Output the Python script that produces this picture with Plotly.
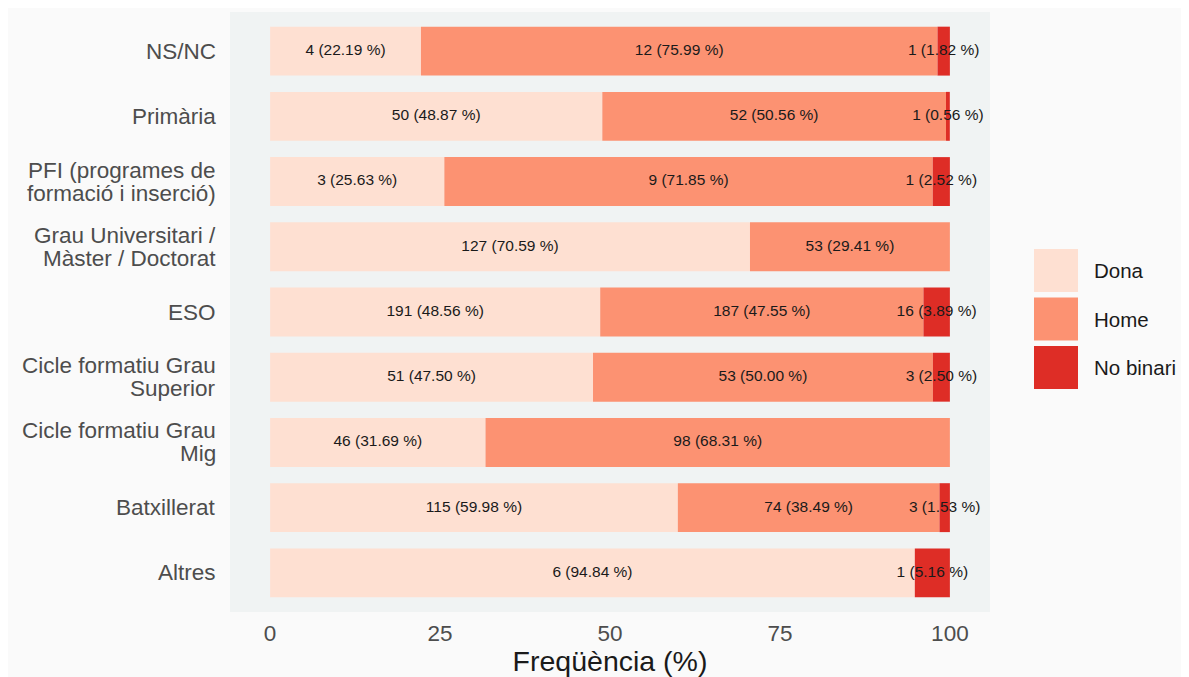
import plotly.graph_objects as go

# categories, top to bottom as in the chart
categories = [
    "NS/NC",
    "Primària",
    "PFI (programes de\nformació i inserció)",
    "Grau Universitari /\nMàster / Doctorat",
    "ESO",
    "Cicle formatiu Grau\nSuperior",
    "Cicle formatiu Grau\nMig",
    "Batxillerat",
    "Altres",
]
genders = ["Dona", "Home", "No binari"]
colors = ["#FEE0D2", "#FC9272", "#DE2D26"]

# counts and weighted percentages per gender
dona_n = [4, 50, 3, 127, 191, 51, 46, 115, 6]
dona_pct = [22.19, 48.87, 25.63, 70.59, 48.56, 47.50, 31.69, 59.98, 94.84]
home_n = [12, 52, 9, 53, 187, 53, 98, 74, 0]
home_pct = [75.99, 50.56, 71.85, 29.41, 47.55, 50.00, 68.31, 38.49, 0]
nb_n = [1, 1, 1, 0, 16, 3, 0, 3, 1]
nb_pct = [1.82, 0.56, 2.52, 0, 3.89, 2.50, 0, 1.53, 5.16]

counts = [dona_n, home_n, nb_n]
pcts = [dona_pct, home_pct, nb_pct]

FONT = "Liberation Sans, Arial, sans-serif"

fig = go.Figure()
base = [0.0] * len(categories)
lx, ly, lt = [], [], []
for g, col, ns, ps in zip(genders, colors, counts, pcts):
    fig.add_trace(go.Bar(
        y=categories, x=ps, base=base, orientation="h", name=g,
        marker=dict(color=col, line=dict(width=0)), width=0.75,
        showlegend=False, hoverinfo="skip",
    ))
    for i, (n, p) in enumerate(zip(ns, ps)):
        if n > 0:
            lx.append(base[i] + p / 2)
            ly.append(categories[i])
            lt.append(f"{n} ({p:.2f} %)")
    base = [b + p for b, p in zip(base, ps)]

fig.add_trace(go.Scatter(
    x=lx, y=ly, text=lt, mode="text", showlegend=False, hoverinfo="skip",
    textfont=dict(family=FONT, size=15.5, color="#1A1A1A"),
))

# y labels as annotations so the two-line ones get tight line spacing
for cat in categories:
    lines = cat.split("\n")
    k = len(lines)
    for j, line in enumerate(lines):
        fig.add_annotation(xref="paper", yref="y", x=-12 / 760, y=cat,
                           yshift=((k - 1) / 2 - j) * 23,
                           text=line, showarrow=False, xanchor="right", yanchor="middle",
                           font=dict(family=FONT, size=22.5, color="#4D4D4D"))

# legend drawn as big keys like ggplot
for i, (g, col) in enumerate(zip(genders, colors)):
    y1 = 1 - (249 - 12 + i * 48.5) / 600
    y0 = y1 - 43 / 600
    fig.add_shape(type="rect", xref="paper", yref="paper",
                  x0=(1034 - 230) / 760, x1=(1078 - 230) / 760, y0=y0, y1=y1,
                  fillcolor=col, line=dict(width=0))
    fig.add_annotation(xref="paper", yref="paper", x=(1092 - 230) / 760, y=(y0 + y1) / 2,
                       text=g, showarrow=False, xanchor="left", yanchor="middle",
                       font=dict(family=FONT, size=20.5, color="#1A1A1A"))

fig.update_layout(
    barmode="overlay",
    width=1189, height=677,
    margin=dict(l=222, r=207, t=4, b=73),
    paper_bgcolor="#FAFAFA",
    plot_bgcolor="#F0F3F3",
    font=dict(family=FONT),
    xaxis=dict(
        range=[-5.9, 105.9], tickvals=[0, 25, 50, 75, 100],
        showgrid=False, zeroline=False, showline=False, ticks="",
        ticklabelstandoff=5,
        tickfont=dict(size=22.5, color="#4D4D4D"),
        title=dict(text="Freqüència (%)", standoff=6,
                   font=dict(size=28.5, color="#1A1A1A")),
    ),
    yaxis=dict(
        categoryorder="array", categoryarray=categories[::-1],
        range=[-0.6, len(categories) - 0.4],
        showgrid=False, zeroline=False, showline=False, ticks="",
        showticklabels=False,
    ),
)

fig.write_html("out.html")
